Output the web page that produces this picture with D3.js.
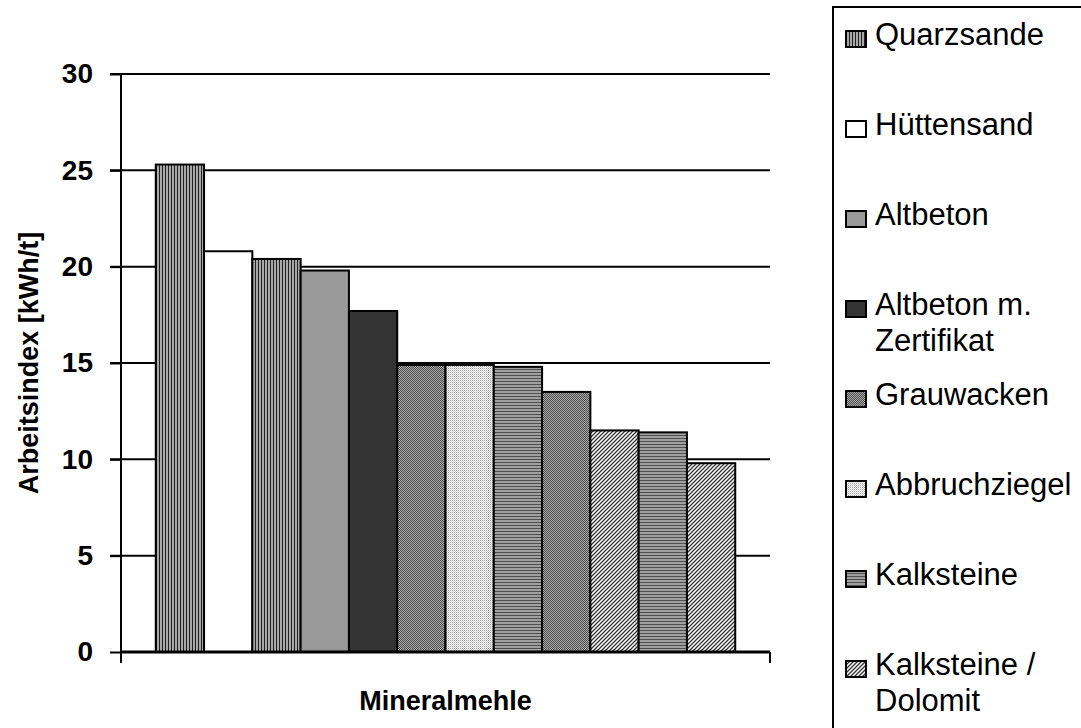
<!DOCTYPE html>
<html>
<head>
<meta charset="utf-8">
<script src="https://cdn.jsdelivr.net/npm/d3@7"></script>
<style>
  body { margin: 0; background: #fff; }
  text { font-family: "Liberation Sans", Arial, sans-serif; }
</style>
</head>
<body>
<div id="chart"></div>
<script>
// data
const categories = ['Mineralmehle'];
const barTypes = ['Quarzsande', 'Hüttensand', 'Quarzsande', 'Altbeton', 'Altbeton m. Zertifikat',
  'Grauwacken', 'Abbruchziegel', 'Kalksteine', 'Grauwacken', 'Kalksteine / Dolomit',
  'Kalksteine', 'Kalksteine / Dolomit'];
const barValues = [25.3, 20.8, 20.4, 19.8, 17.7, 14.9, 14.9, 14.8, 13.5, 11.5, 11.4, 9.8];
const yTicks = [0, 5, 10, 15, 20, 25, 30];
const legendItems = ['Quarzsande', 'Hüttensand', 'Altbeton', 'Altbeton m. Zertifikat',
  'Grauwacken', 'Abbruchziegel', 'Kalksteine', 'Kalksteine / Dolomit'];
const legendLines = [['Quarzsande'], ['Hüttensand'], ['Altbeton'], ['Altbeton m.', 'Zertifikat'],
  ['Grauwacken'], ['Abbruchziegel'], ['Kalksteine'], ['Kalksteine /', 'Dolomit']];

const fills = {
  'Quarzsande': 'url(#vert)',
  'Hüttensand': '#ffffff',
  'Altbeton': '#999999',
  'Altbeton m. Zertifikat': '#333333',
  'Grauwacken': 'url(#check)',
  'Abbruchziegel': 'url(#dots)',
  'Kalksteine': 'url(#horiz)',
  'Kalksteine / Dolomit': 'url(#diag)'
};

const width = 1081, height = 728;
const plot = { left: 121, right: 770, top: 74, bottom: 652 };

const svg = d3.select('#chart').append('svg')
  .attr('width', width)
  .attr('height', height);

// fill patterns
const defs = svg.append('defs');
let p = defs.append('pattern').attr('id', 'vert').attr('patternUnits', 'userSpaceOnUse')
  .attr('width', 3).attr('height', 3);
p.append('rect').attr('width', 3).attr('height', 3).attr('fill', '#a8a8a8');
p.append('rect').attr('width', 1).attr('height', 3).attr('fill', '#222');

p = defs.append('pattern').attr('id', 'horiz').attr('patternUnits', 'userSpaceOnUse')
  .attr('width', 3).attr('height', 3);
p.append('rect').attr('width', 3).attr('height', 3).attr('fill', '#a0a0a0');
p.append('rect').attr('width', 3).attr('height', 1).attr('fill', '#505050');

p = defs.append('pattern').attr('id', 'check').attr('patternUnits', 'userSpaceOnUse')
  .attr('width', 2).attr('height', 2);
p.append('rect').attr('width', 2).attr('height', 2).attr('fill', '#a8a8a8');
p.append('rect').attr('width', 1).attr('height', 1).attr('fill', '#505050');
p.append('rect').attr('x', 1).attr('y', 1).attr('width', 1).attr('height', 1).attr('fill', '#505050');

p = defs.append('pattern').attr('id', 'dots').attr('patternUnits', 'userSpaceOnUse')
  .attr('width', 2).attr('height', 2);
p.append('rect').attr('width', 2).attr('height', 2).attr('fill', '#ffffff');
p.append('rect').attr('width', 1).attr('height', 1).attr('fill', '#9a9a9a');
p.append('rect').attr('x', 1).attr('y', 1).attr('width', 1).attr('height', 1).attr('fill', '#d0d0d0');

p = defs.append('pattern').attr('id', 'diag').attr('patternUnits', 'userSpaceOnUse')
  .attr('width', 4).attr('height', 4);
p.append('rect').attr('width', 4).attr('height', 4).attr('fill', '#ffffff');
p.append('path').attr('d', 'M-1,1 l2,-2 M0,4 l4,-4 M3,5 l2,-2')
  .attr('stroke', '#333').attr('stroke-width', 1.3);

// scales
const y = d3.scaleLinear().domain([0, 30]).range([plot.bottom, plot.top]);
const x0 = d3.scaleBand().domain(categories).range([plot.left, plot.right])
  .paddingInner(0).paddingOuter(0.06);
const x1 = d3.scaleBand().domain(d3.range(barValues.length)).range([0, x0.bandwidth()]).padding(0);

// gridlines (with outside tick part)
svg.append('g')
  .selectAll('line')
  .data(yTicks.filter(d => d > 0))
  .join('line')
  .attr('x1', plot.left - 11)
  .attr('x2', plot.right)
  .attr('y1', d => y(d))
  .attr('y2', d => y(d))
  .attr('stroke', '#000')
  .attr('stroke-width', 2);

// bars
svg.append('g')
  .selectAll('rect')
  .data(barValues)
  .join('rect')
  .attr('x', (d, i) => x0(categories[0]) + x1(i))
  .attr('y', d => y(d))
  .attr('width', x1.bandwidth())
  .attr('height', d => y(0) - y(d))
  .attr('fill', (d, i) => fills[barTypes[i]])
  .attr('stroke', '#000')
  .attr('stroke-width', 2);

// y axis
const yAxis = svg.append('g')
  .attr('transform', `translate(${plot.left},0)`)
  .call(d3.axisLeft(y).tickValues(yTicks).tickSize(11).tickPadding(17));
yAxis.select('.domain').attr('stroke-width', 2).attr('d', `M0,${plot.top}V${plot.bottom + 11}`);
yAxis.selectAll('.tick line').attr('stroke-width', 2);
yAxis.selectAll('.tick text')
  .attr('font-size', 28).attr('font-weight', 'bold')
  .attr('font-family', '"Liberation Sans", Arial, sans-serif')
  .attr('fill', '#000');

// x axis (category boundaries as ticks)
const xAxis = svg.append('g');
xAxis.append('line')
  .attr('x1', plot.left).attr('x2', plot.right)
  .attr('y1', y(0)).attr('y2', y(0))
  .attr('stroke', '#000').attr('stroke-width', 3);
xAxis.selectAll('.xt')
  .data([plot.right])
  .join('line')
  .attr('class', 'xt')
  .attr('x1', d => d).attr('x2', d => d)
  .attr('y1', y(0)).attr('y2', y(0) + 11)
  .attr('stroke', '#000').attr('stroke-width', 2);

// axis titles
svg.append('text')
  .attr('x', x0(categories[0]) + x0.bandwidth() / 2)
  .attr('y', 710)
  .attr('text-anchor', 'middle')
  .attr('font-size', 27).attr('font-weight', 'bold')
  .text('Mineralmehle');

svg.append('text')
  .attr('transform', `translate(38,${(plot.top + plot.bottom) / 2}) rotate(-90)`)
  .attr('text-anchor', 'middle')
  .attr('font-size', 27).attr('font-weight', 'bold')
  .text('Arbeitsindex [kWh/t]');

// legend
const legend = svg.append('g');
legend.append('rect')
  .attr('x', 833).attr('y', 7)
  .attr('width', 300).attr('height', 800)
  .attr('fill', 'none').attr('stroke', '#000').attr('stroke-width', 2);

const item = legend.selectAll('.item')
  .data(legendItems)
  .join('g')
  .attr('class', 'item')
  .attr('transform', (d, i) => `translate(0,${45 + i * 90})`);

item.append('rect')
  .attr('x', 846).attr('y', -14)
  .attr('width', 20).attr('height', 16)
  .attr('fill', d => fills[d])
  .attr('stroke', '#000').attr('stroke-width', 2);

item.append('text')
  .attr('x', 875)
  .attr('font-size', 31)
  .attr('fill', '#000')
  .selectAll('tspan')
  .data((d, i) => legendLines[i])
  .join('tspan')
  .attr('x', 875)
  .attr('dy', (d, j) => j === 0 ? 0 : 36)
  .text(d => d);
</script>
</body>
</html>
